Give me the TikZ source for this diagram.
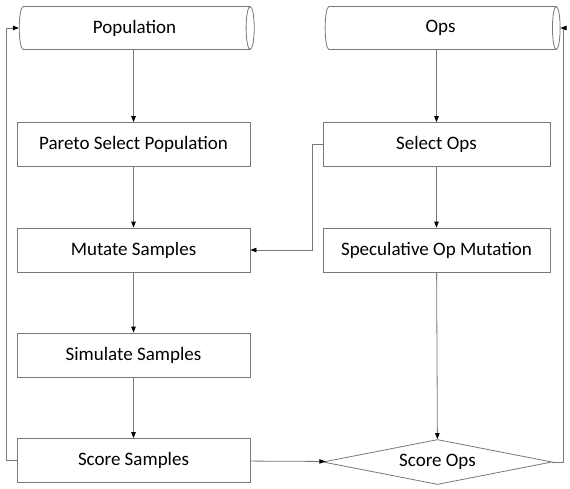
\documentclass[tikz,border=0pt]{standalone}
\usepackage{fontspec}
\setmainfont{Carlito}
\usetikzlibrary{shapes.geometric,arrows.meta}
\definecolor{linec}{RGB}{120,120,120}
\begin{document}
\begin{tikzpicture}[x=1pt,y=-1pt,
  txt/.style={font=\fontsize{19}{22}\selectfont},
  box/.style={txt,draw=linec,line width=0.8pt,fill=white,rectangle,minimum height=44pt,inner sep=0pt},
  store/.style={txt,draw=linec,line width=0.8pt,fill=white,cylinder,shape aspect=0.5,minimum width=43pt,minimum height=235pt,inner sep=0pt},
  decide/.style={txt,draw=linec,line width=0.8pt,fill=white,diamond,aspect=5,minimum width=229pt,minimum height=45pt,inner sep=0pt},
  flow/.style={draw=linec,line width=0.8pt,-{Triangle[length=6pt,width=4.5pt,fill=black,color=black]}},
  every node/.style={text=black}]
\useasboundingbox (0,0) rectangle (570,489);
\node[store] (pop) at (134.5,28) {Population};
\node[store] (ops) at (440.5,28) {Ops};
\node[box,minimum width=233pt] (pareto) at (133.5,144.5) {Pareto Select Population};
\node[box,minimum width=233pt] (mutate) at (133.5,250) {Mutate Samples};
\node[box,minimum width=233pt] (simulate) at (133.5,355) {Simulate Samples};
\node[box,minimum width=233pt] (score) at (133.5,460.5) {Score Samples};
\node[box,minimum width=227pt] (selops) at (436.5,144.5) {Select Ops};
\node[box,minimum width=227pt] (spec) at (436.5,250) {Speculative Op Mutation};
\node[decide] (scoreops) at (437.5,462) {Score Ops};
\draw[flow] (pop.south -| pareto.north) -- (pareto.north);
\draw[flow] (pareto) -- (mutate);
\draw[flow] (mutate) -- (simulate);
\draw[flow] (simulate) -- (score);
\draw[flow] (ops.south -| selops.north) -- (selops.north);
\draw[flow] (selops) -- (spec);
\draw[flow] (spec) -- (scoreops);
\draw[flow] (score) -- (scoreops);
\draw[flow] (score.west) -- ++(-10,0) |- (pop.west);
\draw[flow] (scoreops.east) -- ++(11,0) |- (ops.east);
\draw[flow] (selops.west) -- ++(-10,0) |- (mutate.east);
\end{tikzpicture}
\end{document}
